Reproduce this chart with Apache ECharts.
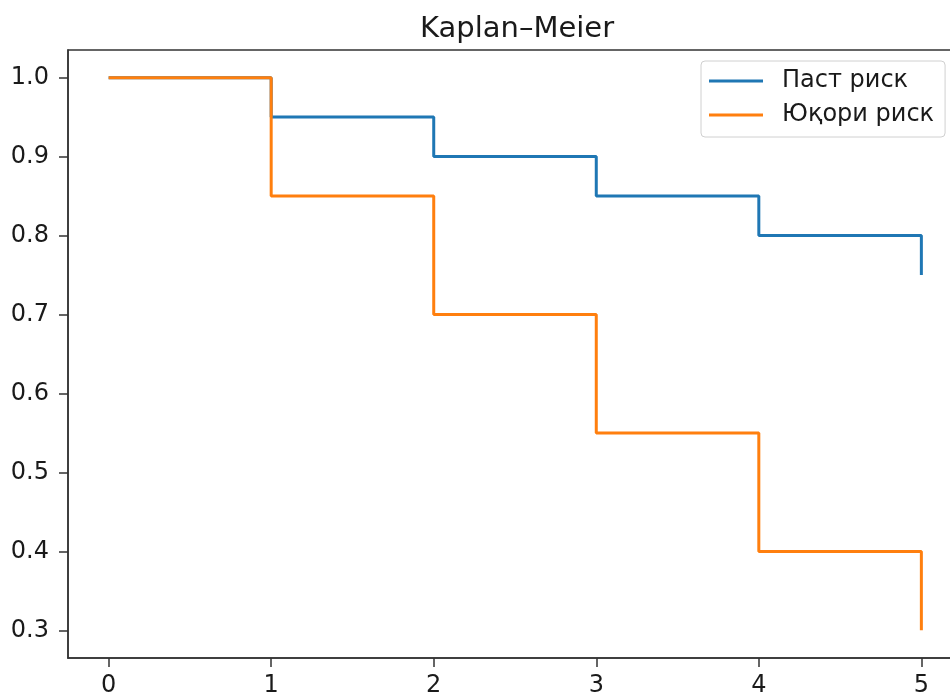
<!DOCTYPE html>
<html>
<head>
<meta charset="utf-8">
<script src="https://cdn.jsdelivr.net/npm/echarts@6/dist/echarts.min.js"></script>
<style>
html,body{margin:0;padding:0;background:#fff;}
#c{width:950px;height:692px;}
</style>
</head>
<body>
<div id="c"></div>
<script>
const times = [0, 1, 2, 3, 4, 5];
const lowRisk = [1.0, 0.95, 0.9, 0.85, 0.8, 0.75];
const highRisk = [1.0, 0.85, 0.7, 0.55, 0.4, 0.3];
const seriesNames = ['Паст риск', 'Юқори риск'];
const xTicks = [0, 1, 2, 3, 4, 5];
const yTicks = [0.3, 0.4, 0.5, 0.6, 0.7, 0.8, 0.9, 1.0];

const font = 'DejaVu Sans';
const chart = echarts.init(document.getElementById('c'), null, {renderer: 'canvas'});
chart.setOption({
  animation: false,
  backgroundColor: '#fff',
  title: {
    text: 'Kaplan–Meier',
    left: 415, top: 10,
    textStyle: {fontFamily: font, fontSize: 29, fontWeight: 'normal', color: '#1a1a1a'}
  },
  legend: {
    left: 701, top: 61, orient: 'vertical',
    data: seriesNames,
    icon: 'rect', itemWidth: 54, itemHeight: 3, itemGap: 6,
    padding: [6, 11, 8, 8],
    borderColor: '#d0d0d0', borderWidth: 1, borderRadius: 4,
    backgroundColor: 'rgba(255,255,255,0.8)',
    textStyle: {fontFamily: font, fontSize: 24, color: '#1a1a1a', lineHeight: 28, padding: [0, 0, 0, 14]}
  },
  grid: {
    left: 68, top: 50, right: -12, height: 608,
    outerBoundsMode: 'none', containLabel: false,
    show: true, borderColor: '#333', borderWidth: 1.5, backgroundColor: 'transparent'
  },
  xAxis: {
    type: 'value', min: -0.25, max: 5.25,
    splitLine: {show: false},
    axisLine: {show: true, onZero: false, lineStyle: {color: '#333', width: 1.5}},
    axisTick: {show: true, length: 9, customValues: xTicks, lineStyle: {color: '#333', width: 1.5}},
    axisLabel: {customValues: xTicks, margin: 16, fontFamily: font, fontSize: 24, color: '#1a1a1a'}
  },
  yAxis: {
    type: 'value', min: 0.265, max: 1.035,
    splitLine: {show: false},
    axisLine: {show: true, onZero: false, lineStyle: {color: '#333', width: 1.5}},
    axisTick: {show: true, length: 9, customValues: yTicks, lineStyle: {color: '#333', width: 1.5}},
    axisLabel: {customValues: yTicks, margin: 19, fontFamily: font, fontSize: 24, color: '#1a1a1a',
      formatter: v => v.toFixed(1)}
  },
  series: [
    {name: seriesNames[0], type: 'line', step: 'end', showSymbol: false, symbol: 'none',
     data: times.map((t, i) => [t, lowRisk[i]]),
     lineStyle: {color: '#1f77b4', width: 3}, itemStyle: {color: '#1f77b4'}},
    {name: seriesNames[1], type: 'line', step: 'end', showSymbol: false, symbol: 'none',
     data: times.map((t, i) => [t, highRisk[i]]),
     lineStyle: {color: '#ff7f0e', width: 3}, itemStyle: {color: '#ff7f0e'}}
  ]
});
</script>
</body>
</html>
